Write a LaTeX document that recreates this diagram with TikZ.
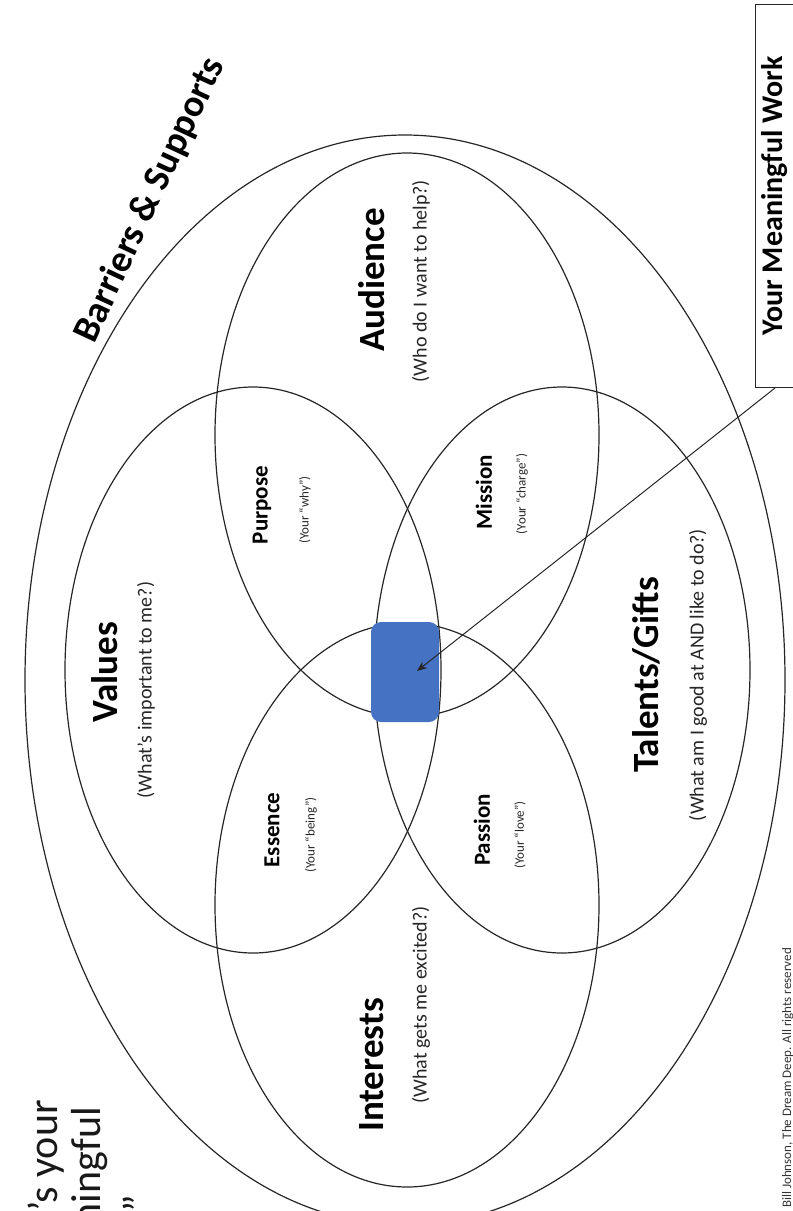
\documentclass[tikz,border=0pt]{standalone}
\usepackage{fontspec}
\setmainfont{Carlito}
\usetikzlibrary{arrows.meta}
\begin{document}
\begin{tikzpicture}[x=1pt,y=-1pt,
  ell/.style={draw=black!85, line width=1.2pt},
  biglbl/.style={font=\fontsize{37}{40}\selectfont\bfseries, rotate=90, inner sep=0pt},
  sublbl/.style={font=\fontsize{20}{22}\selectfont, rotate=90, inner sep=0pt, text=black!85},
  midlbl/.style={font=\fontsize{23}{25}\selectfont\bfseries, rotate=90, inner sep=0pt},
  smalllbl/.style={font=\fontsize{13}{15}\selectfont, rotate=90, inner sep=0pt, text=black!85},
  titlelbl/.style={font=\fontsize{42}{46}\selectfont, rotate=90, inner sep=0pt, anchor=base east, text=black!90}]
\useasboundingbox (0,0) rectangle (793,1211);
\begin{scope}
\clip (0,0) rectangle (793,1211);
% ellipses
\draw[ell] (405,680) ellipse [x radius=380pt, y radius=545pt];
\draw[ell] (253,670) ellipse [x radius=188pt, y radius=283pt];
\draw[ell] (562,670) ellipse [x radius=188pt, y radius=283pt];
\draw[ell] (407,435) ellipse [x radius=192pt, y radius=282pt];
\draw[ell] (407,905) ellipse [x radius=192pt, y radius=282pt];
% core
\node[fill={rgb,255:red,70;green,114;blue,196}, rounded corners=10pt, minimum width=68pt, minimum height=100pt, inner sep=0pt] (core) at (405,672) {};
% title (cut off by the left/bottom edges)
\node[titlelbl] (t1) at (57,1100) {“What’s your};
\node[titlelbl] (t2) at (100,1107) {Meaningful};
\node[titlelbl] (t3) at (152,1195) {Work”};
% copyright
\node[font=\fontsize{13}{15}\selectfont, rotate=90, inner sep=0pt, anchor=base west, text=black!80] (copy) at (791,1208) {Bill Johnson, The Dream Deep. All rights reserved};
% box
\node[draw=black!85, line width=1pt, rotate=90, minimum width=383pt, minimum height=40pt, inner sep=0pt, font=\fontsize{30}{32}\selectfont\bfseries, fill=white] (mw) at (775,196) {Your Meaningful Work};
\end{scope}
% labels
\node[biglbl] (val) at (105,672) {Values};
\node[sublbl] (valq) at (146,690) {(What’s important to me?)};
\node[biglbl] (aud) at (372,280) {Audience};
\node[sublbl] (audq) at (421,281) {(Who do I want to help?)};
\node[biglbl] (tal) at (646,675) {Talents/Gifts};
\node[sublbl] (talq) at (698,675) {(What am I good at AND like to do?)};
\node[biglbl] (int) at (372,1065) {Interests};
\node[sublbl] (intq) at (421,1005) {(What gets me excited?)};
\node[midlbl] (pur) at (262,505) {Purpose};
\node[smalllbl] (purq) at (305,510) {(Your “why”)};
\node[midlbl] (mis) at (484,492) {Mission};
\node[smalllbl] (misq) at (522,494) {(Your “charge”)};
\node[midlbl] (ess) at (272,830) {Essence};
\node[smalllbl] (essq) at (311,835) {(Your “being”)};
\node[midlbl] (pas) at (482,830) {Passion};
\node[smalllbl] (pasq) at (520,835) {(Your “love”)};
\node[font=\fontsize{38}{42}\selectfont\bfseries, rotate=65, inner sep=0pt] (bs) at (150,200) {Barriers \& Supports};
% arrow
\coordinate (tip) at (417,671);
\draw[black!85, line width=1pt, -{Stealth[length=10pt,width=8pt]}] (mw.west) -- (tip);
\end{tikzpicture}
\end{document}
